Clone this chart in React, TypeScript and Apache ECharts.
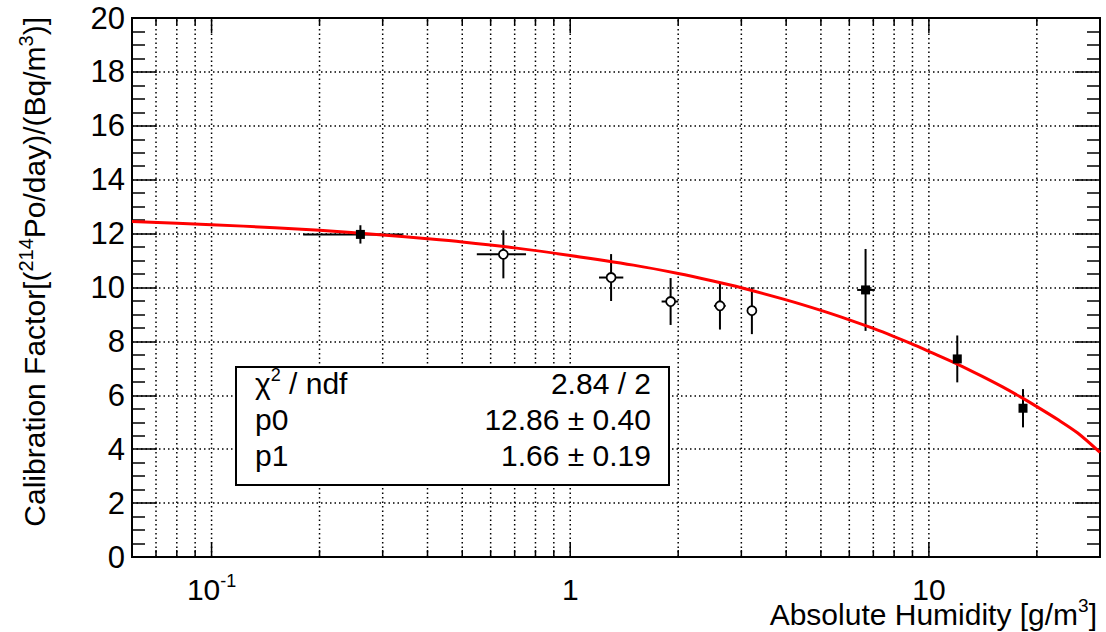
import React, { useEffect, useRef } from "react";
import * as echarts from "echarts";

// ---- data ----
const filledX = [0.26, 6.66, 12.0, 18.3];
const filledY = [11.97, 9.91, 7.35, 5.52];
const filledXLo = [0.18, 6.31, 12.0, 18.3];
const filledXHi = [0.34, 7.07, 12.0, 18.3];
const filledYErr = [0.34, 1.52, 0.87, 0.71];

const openX = [0.651, 1.3, 1.905, 2.615, 3.21];
const openY = [11.23, 10.37, 9.48, 9.32, 9.14];
const openXLo = [0.549, 1.203, 1.798, 2.516, 3.21];
const openXHi = [0.753, 1.406, 2.001, 2.713, 3.21];
const openYErr = [0.89, 0.87, 0.87, 0.88, 0.87];

const fitX = [0.06, 0.1, 0.15, 0.2, 0.3, 0.4, 0.5, 0.7, 1, 1.5, 2, 2.5, 3, 4, 5, 6, 7, 8, 9, 10, 12, 14, 16, 18, 20, 23, 26, 30];
const fitY = [12.45, 12.33, 12.22, 12.12, 11.95, 11.81, 11.69, 11.47, 11.19, 10.83, 10.52, 10.24, 9.99, 9.54, 9.15, 8.8, 8.48, 8.18, 7.9, 7.63, 7.16, 6.72, 6.32, 5.94, 5.58, 5.08, 4.6, 3.88];

const xMin = 0.06;
const xMax = 30;
const yMin = 0;
const yMax = 20;
const yStep = 2;
const xMajorTicks = [0.1, 1, 10];
const xMinorTicks = [0.07, 0.08, 0.09, 0.2, 0.3, 0.4, 0.5, 0.6, 0.7, 0.8, 0.9, 2, 3, 4, 5, 6, 7, 8, 9, 20];

const statNames = ["{a|\u03c7}{s|2}{a| / ndf}", "{a|p0}", "{a|p1}"];
const statValues = ["2.84 / 2", "12.86 \u00b1 0.40", "1.66 \u00b1 0.19"];

const xTitle = "{a|Absolute Humidity [g/m}{s|3}{a|]}";
const yTitle = "{a|Calibration Factor[(}{s|214}{a|Po/day)/(Bq/m}{s|3}{a|)]}";

const FONT = "'Liberation Sans', Arial, Helvetica, sans-serif";

export default function App() {
  const ref = useRef<HTMLDivElement>(null);

  useEffect(() => {
    if (!ref.current) return;
    const chart = echarts.init(ref.current, undefined, { renderer: "svg" });

    const errRender = (params: any, api: any) => {
      const x = api.value(0);
      const y = api.value(1);
      const xl = api.value(2);
      const xh = api.value(3);
      const ye = api.value(4);
      const pL = api.coord([xl, y]);
      const pR = api.coord([xh, y]);
      const pT = api.coord([x, y + ye]);
      const pB = api.coord([x, y - ye]);
      const st = { stroke: "#000", lineWidth: 2 };
      return {
        type: "group",
        children: [
          { type: "line", shape: { x1: pL[0], y1: pL[1], x2: pR[0], y2: pR[1] }, style: st },
          { type: "line", shape: { x1: pT[0], y1: pT[1], x2: pB[0], y2: pB[1] }, style: st },
        ],
      };
    };

    const decorRender = (params: any, api: any) => {
      const v = api.value(0);
      const major = api.value(1) === 1;
      const bot = api.coord([v, yMin]);
      const top = api.coord([v, yMax]);
      const len = major ? 15 : 7;
      return {
        type: "group",
        children: [
          {
            type: "line",
            shape: { x1: bot[0], y1: bot[1], x2: top[0], y2: top[1] },
            style: { stroke: "#000", lineWidth: 1.5, lineDash: [1.5, 3] },
          },
          {
            type: "line",
            shape: { x1: bot[0], y1: bot[1], x2: bot[0], y2: bot[1] - len },
            style: { stroke: "#000", lineWidth: 1.5 },
          },
          {
            type: "line",
            shape: { x1: top[0], y1: top[1], x2: top[0], y2: top[1] + len },
            style: { stroke: "#000", lineWidth: 1.5 },
          },
        ],
      };
    };

    const xLabelFmt = (v: number) => {
      const lg = Math.log10(v);
      const e = Math.round(lg);
      if (Math.abs(lg - e) > 1e-6) return "";
      if (e === 0) return "{b|1}";
      if (e === 1) return "{b|10}";
      return "{b|10}{s|" + e + "}";
    };

    const yAxisCommon = {
      type: "value",
      min: yMin,
      max: yMax,
      interval: yStep,
      axisLine: { show: true, lineStyle: { color: "#000", width: 2 } },
      axisTick: { show: true, inside: true, length: 25, lineStyle: { color: "#000", width: 1.5 } },
      minorTick: { show: true, splitNumber: 4, length: 13, lineStyle: { color: "#000", width: 1.5 } },
    };

    const statsChildren: any[] = [
      {
        type: "rect",
        shape: { x: 236, y: 367, width: 433, height: 118 },
        style: { fill: "#fff", stroke: "#000", lineWidth: 2 },
        z: 100,
      },
    ];
    const rowY = [383, 419, 455];
    statNames.forEach((n, i) => {
      statsChildren.push({
        type: "text",
        x: 255,
        y: rowY[i],
        z: 101,
        style: {
          text: n,
          fill: "#000",
          fontSize: 30,
          fontFamily: FONT,
          align: "left",
          textAlign: "left",
          verticalAlign: "middle",
          textVerticalAlign: "middle",
          rich: {
            a: { fontSize: 30, fontFamily: FONT, lineHeight: 34, fill: "#000" },
            s: { fontSize: 18, fontFamily: FONT, lineHeight: 18, verticalAlign: "top", fill: "#000" },
          },
        },
      });
      statsChildren.push({
        type: "text",
        x: 651,
        y: rowY[i],
        z: 101,
        style: {
          text: statValues[i],
          fill: "#000",
          fontSize: 30,
          fontFamily: FONT,
          align: "right",
          textAlign: "right",
          verticalAlign: "middle",
          textVerticalAlign: "middle",
        },
      });
    });

    const option: any = {
      animation: false,
      backgroundColor: "#fff",
      textStyle: { fontFamily: FONT },
      grid: {
        left: 132,
        right: 6,
        top: 18,
        bottom: 75,
        show: true,
        borderColor: "#000",
        borderWidth: 2,
        backgroundColor: "transparent",
      },
      xAxis: {
        type: "log",
        logBase: 10,
        min: xMin,
        max: xMax,
        axisLine: { show: true, lineStyle: { color: "#000", width: 2 } },
        axisTick: { show: false },
        splitLine: { show: false },
        axisLabel: {
          show: true,
          margin: 15,
          color: "#000",
          formatter: xLabelFmt,
          rich: {
            b: { fontSize: 30, lineHeight: 34, fontFamily: FONT, color: "#000" },
            s: { fontSize: 18, lineHeight: 17, fontFamily: FONT, color: "#000", verticalAlign: "top" },
          },
        },
      },
      yAxis: [
        {
          ...yAxisCommon,
          position: "left",
          axisLabel: { show: true, margin: 7, fontSize: 31, color: "#000", fontFamily: FONT },
          splitLine: { show: true, lineStyle: { color: "#000", width: 1.5, type: [1.5, 3] } },
        },
        {
          ...yAxisCommon,
          position: "right",
          axisLabel: { show: false },
          splitLine: { show: false },
        },
      ],
      graphic: [
        {
          type: "text",
          x: 1097,
          y: 614,
          style: {
            text: xTitle,
            fill: "#000",
            fontSize: 30,
            fontFamily: FONT,
            align: "right",
            textAlign: "right",
            verticalAlign: "middle",
            textVerticalAlign: "middle",
            rich: {
              a: { fontSize: 30, fontFamily: FONT, lineHeight: 36, fill: "#000" },
              s: { fontSize: 19, fontFamily: FONT, lineHeight: 22, verticalAlign: "top", fill: "#000" },
            },
          },
        },
        {
          type: "text",
          x: 34,
          y: 17,
          rotation: Math.PI / 2,
          style: {
            text: yTitle,
            fill: "#000",
            fontSize: 30,
            fontFamily: FONT,
            align: "right",
            textAlign: "right",
            verticalAlign: "middle",
            textVerticalAlign: "middle",
            rich: {
              a: { fontSize: 30, fontFamily: FONT, lineHeight: 36, fill: "#000" },
              s: { fontSize: 20, fontFamily: FONT, lineHeight: 24, verticalAlign: "top", fill: "#000" },
            },
          },
        },
        ...statsChildren,
      ],
      series: [
        {
          type: "custom",
          name: "grid-x",
          renderItem: decorRender,
          silent: true,
          z: 1,
          encode: { x: 0, y: 2 },
          data: [
            ...xMajorTicks.map((v) => [v, 1, yMin]),
            ...xMinorTicks.map((v) => [v, 0, yMin]),
          ],
        },
        {
          type: "custom",
          name: "errors",
          renderItem: errRender,
          z: 3,
          encode: { x: 0, y: 1 },
          data: [
            ...filledX.map((x, i) => [x, filledY[i], filledXLo[i], filledXHi[i], filledYErr[i]]),
            ...openX.map((x, i) => [x, openY[i], openXLo[i], openXHi[i], openYErr[i]]),
          ],
        },
        {
          type: "line",
          name: "fit",
          z: 4,
          data: fitX.map((x, i) => [x, fitY[i]]),
          showSymbol: false,
          symbol: "none",
          smooth: 0.3,
          lineStyle: { color: "#ff0000", width: 3 },
        },
        {
          type: "scatter",
          name: "filled",
          z: 5,
          symbol: "rect",
          symbolSize: 9,
          itemStyle: { color: "#000", opacity: 1 },
          data: filledX.map((x, i) => [x, filledY[i]]),
        },
        {
          type: "scatter",
          name: "open",
          z: 5,
          symbol: "circle",
          symbolSize: 9,
          itemStyle: { color: "#fff", borderColor: "#000", borderWidth: 1.8, opacity: 1 },
          data: openX.map((x, i) => [x, openY[i]]),
        },
      ],
    };

    chart.setOption(option);
    return () => {
      chart.dispose();
    };
  }, []);

  return (
    <div
      ref={ref}
      style={{ position: "absolute", left: 0, top: 0, width: 1106, height: 632, background: "#fff" }}
    />
  );
}
